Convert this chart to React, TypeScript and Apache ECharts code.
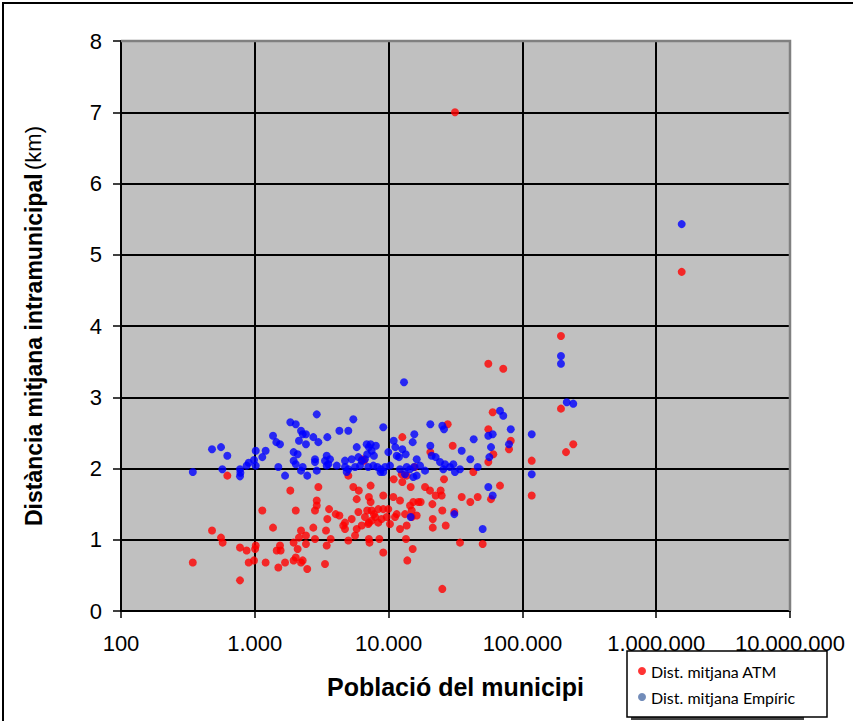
import React, { useEffect, useRef } from 'react';
import * as echarts from 'echarts';

// Dist. mitjana ATM (red)
const atmPop = [
  623, 1842, 1138, 2024, 1368, 479, 559, 575, 775, 869, 1016, 1005, 1543, 1560, 1458, 2215, 2412, 2138, 1950, 2412,
  2090, 344, 900, 986, 1205, 1499, 1683, 2024, 1950, 2280, 2215, 2466, 775, 55610, 27650, 55610, 12660, 30140, 20500, 55610,
  6356, 6546, 15670, 42970, 4998, 10920, 12530, 13650, 25940, 12660, 2985, 5448, 5992, 7340, 14630, 18720, 20380, 22490, 24480, 24940,
  9120, 10840, 12170, 7125, 7340, 5777, 2904, 2818, 2904, 35170, 40800, 46340, 14460, 15300, 16670, 17380, 13260, 14890, 14890, 16220,
  21240, 3590, 3484, 4024, 4285, 5942, 6920, 7465, 7766, 8370, 9120, 9950, 7940, 7465, 7125, 6655, 25200, 11500, 5300, 4721,
  4580, 4721, 6295, 5777, 5612, 7048, 8370, 8860, 9680, 10240, 11170, 12170, 13650, 21380, 21380, 26730, 2736, 3404, 3446, 3348,
  2818, 3691, 4998, 7125, 7200, 8530, 13490, 15140, 9120, 13800, 34170, 50470, 25200, 194200, 71960, 194200, 59960, 240000, 211800, 81800,
  79400, 60650, 117400, 68000, 117400, 58230, 30980, 1551000, 31340,
];
const atmDist = [
  1.90, 1.69, 1.41, 1.41, 1.17, 1.13, 1.03, 0.96, 0.89, 0.85, 0.92, 0.87, 0.92, 0.85, 0.85, 1.13, 1.06, 1.03, 0.96, 0.94,
  0.87, 0.68, 0.68, 0.71, 0.68, 0.61, 0.68, 0.75, 0.71, 0.71, 0.68, 0.59, 0.43, 3.47, 2.62, 2.55, 2.44, 2.32, 2.23, 2.09,
  2.13, 2.11, 2.02, 1.95, 1.90, 1.85, 1.92, 1.90, 1.85, 1.81, 1.74, 1.74, 1.69, 1.76, 1.74, 1.74, 1.69, 1.62, 1.69, 1.62,
  1.62, 1.60, 1.55, 1.60, 1.53, 1.57, 1.55, 1.41, 1.48, 1.60, 1.53, 1.60, 1.48, 1.53, 1.53, 1.53, 1.36, 1.41, 1.32, 1.34,
  1.50, 1.43, 1.29, 1.36, 1.34, 1.39, 1.41, 1.41, 1.36, 1.43, 1.43, 1.43, 1.32, 1.27, 1.24, 1.32, 1.41, 1.36, 1.29, 1.24,
  1.20, 1.15, 1.20, 1.15, 1.06, 1.22, 1.24, 1.29, 1.32, 1.22, 1.32, 1.15, 1.20, 1.29, 1.17, 1.20, 1.17, 1.13, 0.92, 0.66,
  1.01, 1.01, 0.99, 1.01, 0.96, 1.01, 1.01, 0.87, 0.82, 0.71, 0.96, 0.94, 0.31, 3.86, 3.40, 2.84, 2.79, 2.34, 2.23, 2.39,
  2.27, 2.20, 2.11, 1.76, 1.62, 1.57, 1.39, 4.76, 7.00,
];

// Dist. mitjana Empíric (blue)
const empPop = [
  344, 479, 559, 623, 572, 775, 775, 780, 869, 900, 986, 1016, 1016, 1138, 1205, 1368, 1448, 1543, 1499, 1683,
  1842, 2024, 2215, 2280, 2412, 2138, 2412, 1950, 2090, 1950, 2024, 2280, 2215, 2466, 13040, 2904, 5448, 9120, 4285, 4998,
  2736, 3484, 2985, 20500, 25200, 25940, 15560, 15140, 10920, 11220, 43250, 5777, 6855, 7340, 8036, 7125, 7465, 6920, 7766, 20500,
  35170, 12660, 13420, 11500, 11960, 9950, 2818, 2818, 3446, 3648, 3348, 3543, 4721, 5300, 5942, 6295, 6655, 21000, 22490, 16220,
  40800, 24210, 26400, 30470, 28770, 25640, 4096, 3446, 4721, 4998, 5612, 6110, 7048, 7690, 8240, 8750, 9420, 10240, 8700, 9120,
  12170, 13650, 14460, 15480, 17180, 18720, 13260, 15300, 16220, 34170, 31330, 46340, 2904, 4862, 55610, 14630, 30980, 50470, 55610, 194200,
  194200, 214500, 240000, 68000, 71960, 81800, 59960, 117400, 58230, 79400, 56620, 117400, 59960, 1551000,
];
const empDist = [
  1.95, 2.27, 2.30, 2.18, 1.99, 1.99, 1.89, 1.94, 2.04, 2.08, 2.12, 2.04, 2.25, 2.16, 2.25, 2.46, 2.37, 2.34, 2.02, 1.90,
  2.65, 2.62, 2.53, 2.48, 2.48, 2.39, 2.34, 2.23, 2.20, 2.11, 2.06, 2.02, 1.97, 1.90, 3.21, 2.76, 2.69, 2.58, 2.53, 2.53,
  2.44, 2.44, 2.37, 2.62, 2.60, 2.55, 2.48, 2.37, 2.39, 2.30, 2.41, 2.30, 2.34, 2.34, 2.32, 2.30, 2.25, 2.20, 2.18, 2.32,
  2.25, 2.27, 2.20, 2.18, 2.16, 2.23, 2.13, 2.09, 2.18, 2.13, 2.11, 2.06, 2.11, 2.13, 2.16, 2.11, 2.13, 2.18, 2.16, 2.13,
  2.13, 2.09, 2.06, 2.06, 2.02, 1.99, 2.04, 2.04, 2.02, 1.99, 2.02, 2.04, 2.02, 2.04, 2.02, 1.99, 2.02, 2.04, 1.95, 1.95,
  1.99, 2.02, 1.99, 2.02, 2.04, 1.97, 1.92, 1.88, 1.90, 1.99, 1.95, 2.02, 1.97, 1.95, 1.74, 1.32, 1.36, 1.15, 2.46, 3.58,
  3.47, 2.93, 2.91, 2.81, 2.74, 2.55, 2.48, 2.48, 2.30, 2.34, 2.16, 1.92, 1.62, 5.43,
];

const seriesNames = ['Dist. mitjana ATM', 'Dist. mitjana Empíric'];
const xMin = 100;
const xMax = 10000000;
const yMin = 0;
const yMax = 8;
const xTitle = 'Població del municipi';
const yTitleBold = 'Distància mitjana intramunicipal';
const yTitleUnit = '(km)';

const fmt = (v: number) => Math.round(v).toString().replace(/\B(?=(\d{3})+(?!\d))/g, '.');
const zip = (a: number[], b: number[]) => a.map((v, i) => [v, b[i]]);

export default function App() {
  const ref = useRef<HTMLDivElement>(null);
  useEffect(() => {
    const chart = echarts.init(ref.current!, null, { renderer: 'svg' });
    const font = '"Liberation Sans", Arial, sans-serif';
    const labelStyle = { fontSize: 22, fontFamily: font, color: '#000' };
    chart.setOption({
      animation: false,
      backgroundColor: '#ffffff',
      textStyle: { fontFamily: font },
      grid: { left: 121, top: 41, right: 63, bottom: 110, show: true, backgroundColor: '#C0C0C0', borderWidth: 0 },
      xAxis: {
        type: 'log',
        logBase: 10,
        min: xMin,
        max: xMax,
        axisLine: { show: true, onZero: false, lineStyle: { color: '#000', width: 2 } },
        axisTick: { show: true, length: 7, lineStyle: { color: '#000', width: 1.5 } },
        minorTick: { show: false },
        axisLabel: { show: true, ...labelStyle, formatter: fmt, margin: 21, hideOverlap: false },
        splitLine: { show: true, lineStyle: { color: '#000', width: 2 } },
        name: xTitle,
        nameLocation: 'middle',
        nameGap: 63,
        nameTextStyle: { fontSize: 25, fontWeight: 'bold', color: '#000', fontFamily: font },
      },
      yAxis: {
        type: 'value',
        min: yMin,
        max: yMax,
        interval: 1,
        axisLine: { show: true, lineStyle: { color: '#000', width: 2 } },
        axisTick: { show: true, length: 8, lineStyle: { color: '#000', width: 1.5 } },
        axisLabel: { show: true, ...labelStyle, margin: 19 },
        splitLine: { show: true, lineStyle: { color: '#000', width: 2 } },
        name: `{b|${yTitleBold}} {n|${yTitleUnit}}`,
        nameLocation: 'middle',
        nameRotate: 90,
        nameGap: 76,
        nameTextStyle: {
          color: '#000',
          rich: {
            b: { fontSize: 23, fontWeight: 'bold', fontFamily: font, color: '#000' },
            n: { fontSize: 22, fontFamily: font, color: '#000' },
          },
        },
      },
      legend: {
        orient: 'vertical',
        left: 633,
        top: 657,
        itemGap: 8,
        icon: 'circle',
        itemWidth: 8,
        itemHeight: 8,
        textStyle: { fontSize: 16, fontFamily: 'Lato, "Open Sans", sans-serif', color: '#000', lineHeight: 18 },
        data: [
          { name: seriesNames[0], itemStyle: { color: '#FF0000' } },
          { name: seriesNames[1], itemStyle: { color: '#4F6FA8' } },
        ],
        z: 20,
      },
      graphic: [
        { type: 'polyline', shape: { points: [[121, 41], [790, 41], [790, 611]] }, style: { stroke: '#808080', lineWidth: 2.5, fill: 'none' }, z: 10 },
        { type: 'polyline', shape: { points: [[3, 721], [3, 3], [853, 3]] }, style: { stroke: '#000', lineWidth: 2, fill: 'none' }, z: 10 },
        { type: 'rect', shape: { x: 631, y: 717, width: 173, height: 3 }, style: { fill: '#444' }, z: 11 },
        { type: 'rect', shape: { x: 627, y: 651, width: 200, height: 66 }, style: { fill: '#fff', stroke: '#000', lineWidth: 1.5 }, z: 12 },
      ],
      series: [
        {
          name: seriesNames[0],
          type: 'scatter',
          symbol: 'circle',
          symbolSize: 8,
          itemStyle: { color: '#FF0000' },
          data: zip(atmPop, atmDist),
        },
        {
          name: seriesNames[1],
          type: 'scatter',
          symbol: 'circle',
          symbolSize: 8,
          itemStyle: { color: '#0000FF' },
          data: zip(empPop, empDist),
        },
      ],
    });
    return () => chart.dispose();
  }, []);
  return <div ref={ref} style={{ position: 'fixed', left: 0, top: 0, width: 853, height: 721 }} />;
}
